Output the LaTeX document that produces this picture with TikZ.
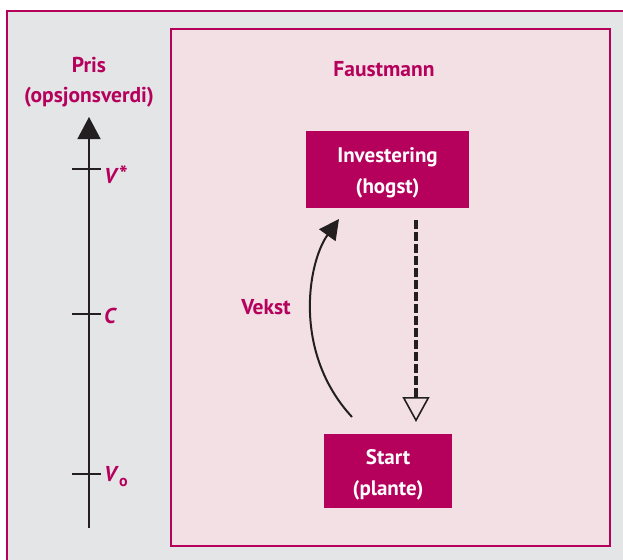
\documentclass[tikz,border=0pt]{standalone}
\usepackage{fontspec}
\setmainfont{PT Sans}
\usetikzlibrary{arrows.meta}
\definecolor{mag}{RGB}{181,0,92}
\definecolor{graybg}{RGB}{228,229,231}
\definecolor{pinkbg}{RGB}{243,224,229}
\definecolor{ink}{RGB}{35,31,32}
\tikzset{
  lbl/.style={text=mag, font=\bfseries\fontsize{21.5}{24}\selectfont, align=center, inner sep=0pt},
  boxnode/.style={fill=mag, text=white, font=\bfseries\fontsize{21}{31}\selectfont, align=center, inner sep=0pt},
  axisline/.style={draw=ink, line width=1.4pt},
}
\begin{document}
\begin{tikzpicture}[x=1pt,y=-1pt]
\useasboundingbox (0,0) rectangle (623,559);
\clip (0,0) rectangle (623,559);
\fill[white] (0,0) rectangle (623,559);
% outer frame
\draw[mag, line width=2.5pt, fill=graybg] (7,11) rectangle (650,590);
% inner frame
\draw[mag, line width=1.5pt, fill=pinkbg] (171,29) rectangle (610,546);
% axis
\coordinate (axbot) at (89,528);
\coordinate (axtop) at (89,117);
\draw[axisline, -{Triangle[length=22pt,width=23pt]}] (axbot) -- (axtop);
\coordinate (t1) at (89,169);
\coordinate (t2) at (89,314);
\coordinate (t3) at (89,474);
\foreach \t in {t1,t2,t3} \draw[axisline] ([xshift=-17pt]\t) -- ([xshift=12pt]\t);
\node[lbl] (pris) at (89,65) {Pris};
\node[lbl] (opsj) at (89,97) {(opsjonsverdi)};
\node[lbl, anchor=west] (vstar) at (104,175) {\textit{V}\raisebox{1pt}{\fontsize{23}{23}\selectfont *}};
\node[lbl, anchor=west] (cc) at (104,316) {\textit{C}};
\node[lbl, anchor=west] (vo) at (104,477) {\textit{V}\raisebox{-5pt}{\fontsize{16}{16}\selectfont o}};
% Faustmann
\node[lbl] (faust) at (384,69) {Faustmann};
% boxes
\node[boxnode, minimum width=163pt, minimum height=77pt] (inv) at (387.5,169.5) {\strut Investering\\(hogst)};
\node[boxnode, minimum width=128pt, minimum height=74pt] (start) at (388,471) {\strut Start\\(plante)};
% dashed arrow
\coordinate (dA) at (416,220);
\coordinate (dB) at (416,422);
\draw[ink, line width=4pt, dash pattern=on 9pt off 3pt,
  -{Triangle[open, length=25pt, width=27pt, line width=1.6pt, fill=pinkbg]}] (dA) -- (dB);
% curved arrow
\coordinate (cA) at (352,417);
\coordinate (cB) at (339,219);
\draw[ink, line width=2pt, -{Triangle[length=20pt,width=20pt]}] (cA) .. controls (292,352) and (308,262) .. (cB);
\node[lbl] (vekst) at (266,307) {Vekst};
\end{tikzpicture}
\end{document}
